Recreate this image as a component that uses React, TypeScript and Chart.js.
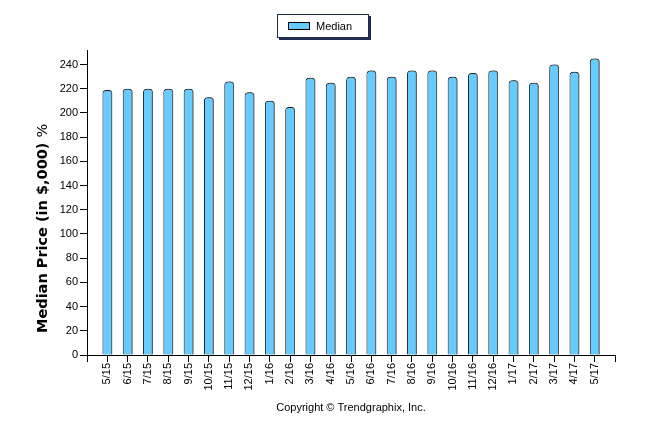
import React, { useEffect, useRef } from "react";
import { Chart, registerables } from "chart.js";

Chart.register(...registerables);

const months = [
  "5/15", "6/15", "7/15", "8/15", "9/15", "10/15", "11/15", "12/15",
  "1/16", "2/16", "3/16", "4/16", "5/16", "6/16", "7/16", "8/16",
  "9/16", "10/16", "11/16", "12/16", "1/17", "2/17", "3/17", "4/17", "5/17",
];
const medianValues = [
  219, 220, 220, 220, 220, 213, 226, 217, 210, 205, 229, 225, 230, 235,
  230, 235, 235, 230, 233, 235, 227, 225, 240, 234, 245,
];
const yTicks = [0, 20, 40, 60, 80, 100, 120, 140, 160, 180, 200, 220, 240];
const seriesName = "Median";
const yTitleBold = "Median Price (in $,000) ";
const yTitleRest = "%";
const copyright = "Copyright \u00A9 Trendgraphix, Inc.";

const FONT = "'Liberation Sans', Arial, sans-serif";
const BAR_FILL = "#66CCFF";
const BAR_BORDER = "#1a1a1a";

const decorPlugin = {
  id: "decor",
  beforeDatasetsDraw(chart: any) {
    const ctx = chart.ctx;
    ctx.save();
    ctx.shadowColor = "rgba(90,90,90,0.9)";
    ctx.shadowOffsetX = 1.5;
    ctx.shadowOffsetY = 0;
    ctx.shadowBlur = 0;
  },
  afterDatasetsDraw(chart: any) {
    chart.ctx.restore();
  },
  afterDraw(chart: any) {
    const ctx = chart.ctx;
    const area = chart.chartArea;
    ctx.save();
    // legend box
    const lx = 269, ly = 6, lw = 92, lh = 24;
    ctx.fillStyle = "#1F2D50";
    ctx.fillRect(lx + 2, ly + 2, lw, lh);
    ctx.fillStyle = "#ffffff";
    ctx.fillRect(lx, ly, lw, lh);
    ctx.strokeStyle = "#1F2D50";
    ctx.lineWidth = 1;
    ctx.strokeRect(lx + 0.5, ly + 0.5, lw - 1, lh - 1);
    ctx.fillStyle = BAR_FILL;
    ctx.fillRect(280, 14, 22, 8);
    ctx.strokeStyle = "#000";
    ctx.strokeRect(280.5, 14.5, 21, 7);
    ctx.fillStyle = "#000";
    ctx.font = `11px ${FONT}`;
    ctx.textBaseline = "middle";
    ctx.textAlign = "left";
    ctx.fillText(seriesName, 308, 18.5);

    // y axis title
    ctx.save();
    ctx.translate(35, 325);
    ctx.rotate(-Math.PI / 2);
    ctx.font = `bold 14.5px 'DejaVu Sans', Verdana, sans-serif`;
    ctx.textBaseline = "middle";
    ctx.fillText(yTitleBold, 0, 0);
    const w = ctx.measureText(yTitleBold).width;
    ctx.font = `14.5px 'DejaVu Sans', Verdana, sans-serif`;
    ctx.fillText(yTitleRest, w, 0);
    ctx.restore();

    // copyright
    ctx.font = `11px ${FONT}`;
    ctx.textAlign = "center";
    ctx.textBaseline = "middle";
    ctx.fillText(copyright, (area.left + area.right) / 2, 400);
    ctx.restore();
  },
};

export default function App() {
  const ref = useRef<HTMLCanvasElement | null>(null);
  useEffect(() => {
    if (!ref.current) return;
    const chart = new Chart(ref.current, {
      type: "bar",
      data: {
        datasets: [
          {
            label: seriesName,
            data: medianValues.map((v, i) => ({ x: i, y: v })),
            backgroundColor: BAR_FILL,
            borderColor: BAR_BORDER,
            borderWidth: 1,
            borderSkipped: "bottom",
            borderRadius: { topLeft: 3.5, topRight: 3.5, bottomLeft: 0, bottomRight: 0 },
            barPercentage: 0.48,
            categoryPercentage: 1,
          },
        ],
      },
      options: {
        animation: false,
        responsive: true,
        maintainAspectRatio: false,
        layout: { padding: { top: 42, right: 23, left: 0, bottom: 0 } },
        plugins: {
          legend: { display: false },
          tooltip: { enabled: false },
          title: { display: false },
        },
        scales: {
          x: {
            type: "linear",
            min: -1,
            max: months.length,
            offset: false,
            afterFit: (s: any) => {
              s.height = 71;
            },
            afterBuildTicks: (s: any) => {
              const t = [];
              for (let i = -1; i <= months.length; i++) t.push({ value: i });
              s.ticks = t;
            },
            ticks: {
              autoSkip: false,
              minRotation: 90,
              maxRotation: 90,
              padding: 1,
              color: "#000",
              font: { family: FONT, size: 11 },
              callback: (v: any) => {
                const i = Number(v);
                return i >= 0 && i < months.length ? months[i] : "";
              },
            },
            grid: {
              offset: false,
              drawOnChartArea: false,
              drawTicks: true,
              tickLength: 7,
              color: "#000",
            },
            border: { display: true, color: "#000", width: 1 },
          },
          y: {
            min: 0,
            max: 252,
            afterFit: (s: any) => {
              s.width = 79;
            },
            afterBuildTicks: (s: any) => {
              s.ticks = yTicks.map((v) => ({ value: v }));
            },
            ticks: {
              padding: 2,
              color: "#000",
              font: { family: FONT, size: 11 },
            },
            grid: {
              drawOnChartArea: false,
              drawTicks: true,
              tickLength: 7,
              color: "#000",
            },
            border: { display: true, color: "#000", width: 1 },
          },
        },
      },
      plugins: [decorPlugin],
    });
    return () => chart.destroy();
  }, []);
  return (
    <div style={{ position: "relative", width: 630, height: 418 }}>
      <canvas ref={ref} />
    </div>
  );
}
